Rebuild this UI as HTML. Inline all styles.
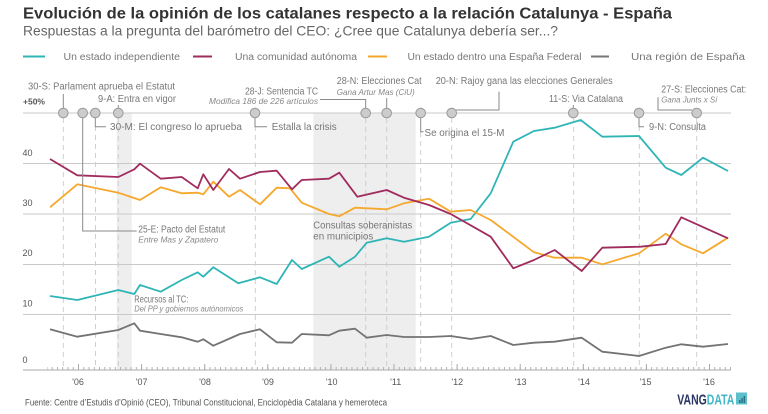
<!DOCTYPE html>
<html><head><meta charset="utf-8"><style>
html,body{margin:0;padding:0;background:#fff;}
svg{display:block;font-family:"Liberation Sans",sans-serif;}
</style></head><body>
<svg width="768" height="414" viewBox="0 0 768 414" xmlns="http://www.w3.org/2000/svg">
<defs>
<pattern id="tk" patternUnits="userSpaceOnUse" x="78" y="0" width="5.2583" height="414">
<rect x="0" y="0" width="1" height="414" fill="#b0b0b0"/>
</pattern>
</defs>
<!-- Title -->
<text x="23" y="18.5" font-size="16" font-weight="bold" fill="#333" textLength="649" lengthAdjust="spacingAndGlyphs">Evolución de la opinión de los catalanes respecto a la relación Catalunya - España</text>
<text x="23" y="35.5" font-size="14" fill="#666" textLength="535" lengthAdjust="spacingAndGlyphs">Respuestas a la pregunta del barómetro del CEO: ¿Cree que Catalunya debería ser...?</text>
<!-- Legend -->
<line x1="23" y1="56.5" x2="45" y2="56.5" stroke="#2fb5b6" stroke-width="2"/>
<text x="63.5" y="59.8" font-size="10" fill="#777" textLength="116.5" lengthAdjust="spacingAndGlyphs">Un estado independiente</text>
<line x1="193" y1="56.5" x2="212" y2="56.5" stroke="#a02c5e" stroke-width="2"/>
<text x="235" y="59.8" font-size="10" fill="#777" textLength="122" lengthAdjust="spacingAndGlyphs">Una comunidad autónoma</text>
<line x1="368" y1="56.5" x2="387" y2="56.5" stroke="#f6a82e" stroke-width="2"/>
<text x="407.5" y="59.8" font-size="10" fill="#777" textLength="174" lengthAdjust="spacingAndGlyphs">Un estado dentro una España Federal</text>
<line x1="591" y1="56.5" x2="609" y2="56.5" stroke="#777" stroke-width="2"/>
<text x="631" y="59.8" font-size="10" fill="#777" textLength="114" lengthAdjust="spacingAndGlyphs">Una región de España</text>

<!-- Shaded bands -->
<rect x="116.7" y="113" width="15" height="257" fill="#eeeeee"/>
<rect x="313.3" y="113" width="102.4" height="257" fill="#eeeeee"/>

<!-- Gridlines -->
<g stroke="#c9c9c9" stroke-width="1">
<line x1="23" y1="113" x2="731" y2="113"/>
<line x1="23" y1="163.5" x2="731" y2="163.5"/>
<line x1="23" y1="214" x2="731" y2="214"/>
<line x1="23" y1="264.5" x2="731" y2="264.5"/>
<line x1="23" y1="314.5" x2="731" y2="314.5"/>
</g>
<line x1="23" y1="370" x2="731" y2="370" stroke="#aaa" stroke-width="1"/>
<rect x="47" y="367" width="684" height="3" fill="url(#tk)"/>
<g stroke="#aaa" stroke-width="1">
<line x1="78.5" y1="364" x2="78.5" y2="370"/>
<line x1="141.6" y1="364" x2="141.6" y2="370"/>
<line x1="204.7" y1="364" x2="204.7" y2="370"/>
<line x1="267.8" y1="364" x2="267.8" y2="370"/>
<line x1="330.9" y1="364" x2="330.9" y2="370"/>
<line x1="394" y1="364" x2="394" y2="370"/>
<line x1="457.1" y1="364" x2="457.1" y2="370"/>
<line x1="520.2" y1="364" x2="520.2" y2="370"/>
<line x1="583.3" y1="364" x2="583.3" y2="370"/>
<line x1="646.4" y1="364" x2="646.4" y2="370"/>
<line x1="709.5" y1="364" x2="709.5" y2="370"/>
</g>

<!-- Dashed verticals -->
<g stroke="#cfcfcf" stroke-width="1" stroke-dasharray="5,4">
<line x1="63.3" y1="118" x2="63.3" y2="370"/>
<line x1="95.5" y1="126" x2="95.5" y2="370"/>
<line x1="118.3" y1="118" x2="118.3" y2="370"/>
<line x1="255.3" y1="126" x2="255.3" y2="370"/>
<line x1="365.7" y1="118" x2="365.7" y2="370"/>
<line x1="386.7" y1="118" x2="386.7" y2="370"/>
<line x1="420.7" y1="132" x2="420.7" y2="370"/>
<line x1="451.7" y1="118" x2="451.7" y2="370"/>
<line x1="573.7" y1="118" x2="573.7" y2="370"/>
<line x1="639.3" y1="126" x2="639.3" y2="370"/>
<line x1="696.7" y1="118" x2="696.7" y2="370"/>
</g>

<!-- Y labels -->
<g font-size="9" fill="#555">
<text x="23" y="104.5" font-weight="bold" font-size="8.5">+50%</text>
<text x="22.5" y="156">40</text>
<text x="22.5" y="206">30</text>
<text x="22.5" y="256">20</text>
<text x="22.5" y="306.5">10</text>
<text x="22.5" y="363">0</text>
</g>
<!-- X labels -->
<g font-size="9" fill="#555" text-anchor="middle">
<text x="78" y="385">'06</text>
<text x="141.7" y="385">'07</text>
<text x="205" y="385">'08</text>
<text x="268" y="385">'09</text>
<text x="331.7" y="385">'10</text>
<text x="395.7" y="385">'11</text>
<text x="457.3" y="385">'12</text>
<text x="520.7" y="385">'13</text>
<text x="584" y="385">'14</text>
<text x="645.7" y="385">'15</text>
<text x="709" y="385">'16</text>
</g>

<!-- Series -->
<g fill="none" stroke-width="1.8" stroke-linejoin="round">
<polyline stroke="#737373" points="50,329.3 77.3,336.7 118.3,330 134.3,323.3 140,330.7 160.7,334 181.7,337.3 197.7,341.7 203.3,339.3 213.3,345.7 240,334 260,329.3 276.7,342.3 292,342.7 301.7,334 329,335.3 339.3,330.7 355,328.7 366.7,337.7 386.7,335 404,337 429,337 450.7,336 470.7,339 490.7,336 513.3,345 534,342.7 554.7,341.7 581.7,337.7 602.3,351.7 639,356 665.7,347.7 681.3,344.3 703,346.7 728,344"/>
<polyline stroke="#2fb5b6" points="50,296 77.3,300 118.3,290 134.3,294 140,285 160.7,291.7 181.7,280 197.7,272.3 203.3,276.7 213.3,267.3 238.3,283.3 260,277.3 276.7,284 292,260 301.7,269 329,256.7 339.3,266.7 355,256.7 366.7,242.7 386.7,238.3 404,241.7 429,236.7 450.7,222.7 470.7,219 490.7,193.3 513.3,141.7 534,131 554.7,127.7 580.7,120 602.3,136.7 639,136 665.7,167.7 681.3,175 703,157.7 728,171"/>
<polyline stroke="#f6a82e" points="50,207.3 77.3,184.3 118.3,192.7 140,200 160.7,187.3 181.7,193.3 197.7,192.7 203.3,194.3 213.3,181.7 229,196.7 240,190 260,204.3 276.7,187.7 290,188.3 301.7,202.7 329,214 339.3,216.3 355,207.7 386.7,209.3 404,203.3 429,198.7 450.7,211.7 470.7,210 490.7,220 534,252.3 554.7,257.7 581.7,257.7 602.3,264.3 639,253.3 665.7,233.7 681.3,244.3 703,253.3 728,237.7"/>
<polyline stroke="#a02c5e" points="50,159 77.3,175.3 118.3,177 134.3,169.3 140,163.7 160.7,178.7 181.7,177 197.7,188.3 203.3,174.3 213.3,190 229,169 240,178.7 260,172 276.7,170.7 292,189.3 301.7,180 329,178.7 339.3,172.7 357.3,196.7 386.7,190 404,197.7 429,205 450.7,214 490.7,236.7 513.3,268.3 534,260 554.7,250 581.7,271 602.3,247.7 640.7,246.7 665.7,244 681.3,217.3 728,238.3"/>
</g>

<!-- Connectors -->
<g fill="none" stroke="#8a8a8a" stroke-width="1">
<polyline points="63.3,94 63.3,108"/>
<polyline points="82.7,118 82.7,231 136.7,231"/>
<polyline points="95.3,118 95.3,126.7 106,126.7"/>
<polyline points="118.3,105 118.3,108"/>
<polyline points="320,99.5 365.7,99.5 365.7,108"/>
<polyline points="255,118 255,126.7 267,126.7"/>
<polyline points="386.7,98 386.7,108"/>
<polyline points="456,110 499,110 499,91.7"/>
<polyline points="420.7,118 420.7,131.7 423.5,131.7"/>
<polyline points="573.3,105 573.3,108"/>
<polyline points="639,118 639,126.7 644,126.7"/>
<polyline points="658,97.3 658,110 692,110"/>
</g>

<!-- Markers -->
<g fill="#cccccc" stroke="#9a9a9a" stroke-width="1">
<circle cx="63.3" cy="113" r="4.8"/>
<circle cx="82.7" cy="113" r="4.8"/>
<circle cx="95.3" cy="113" r="4.8"/>
<circle cx="118.3" cy="113" r="4.8"/>
<circle cx="255" cy="113" r="4.8"/>
<circle cx="365.7" cy="113" r="4.8"/>
<circle cx="386.7" cy="113" r="4.8"/>
<circle cx="420.7" cy="113" r="4.8"/>
<circle cx="451.7" cy="113" r="4.8"/>
<circle cx="573.3" cy="113" r="4.8"/>
<circle cx="639" cy="113" r="4.8"/>
<circle cx="696.7" cy="113" r="4.8"/>
</g>

<!-- Annotations -->
<g font-size="10" fill="#777" lengthAdjust="spacingAndGlyphs">
<text x="28" y="89.5" textLength="147" lengthAdjust="spacingAndGlyphs">30-S: Parlament aprueba el Estatut</text>
<text x="98" y="102" textLength="78" lengthAdjust="spacingAndGlyphs">9-A: Entra en vigor</text>
<text x="110" y="130" textLength="132" lengthAdjust="spacingAndGlyphs">30-M: El congreso lo aprueba</text>
<text x="245" y="94.5" textLength="73" lengthAdjust="spacingAndGlyphs">28-J: Sentencia TC</text>
<text x="271.7" y="130" textLength="65" lengthAdjust="spacingAndGlyphs">Estalla la crisis</text>
<text x="336.7" y="84" textLength="85" lengthAdjust="spacingAndGlyphs">28-N: Elecciones Cat</text>
<text x="435.7" y="84" textLength="177" lengthAdjust="spacingAndGlyphs">20-N: Rajoy gana las elecciones Generales</text>
<text x="424.5" y="136" textLength="80" lengthAdjust="spacingAndGlyphs">Se origina el 15-M</text>
<text x="549" y="102" textLength="74" lengthAdjust="spacingAndGlyphs">11-S: Via Catalana</text>
<text x="649" y="130" textLength="57" lengthAdjust="spacingAndGlyphs">9-N: Consulta</text>
<text x="661.3" y="92.7" textLength="85" lengthAdjust="spacingAndGlyphs">27-S: Elecciones Cat:</text>
<text x="138.3" y="232.5" textLength="87" lengthAdjust="spacingAndGlyphs">25-E: Pacto del Estatut</text>
<text x="313.3" y="228.5" textLength="99" lengthAdjust="spacingAndGlyphs">Consultas soberanistas</text>
<text x="313.3" y="239.5" textLength="60" lengthAdjust="spacingAndGlyphs">en municipios</text>
<text x="134.3" y="302.5" textLength="54" lengthAdjust="spacingAndGlyphs">Recursos al TC:</text>
</g>
<g font-size="8.5" fill="#888" font-style="italic">
<text x="209" y="104" textLength="109" lengthAdjust="spacingAndGlyphs">Modifica 186 de 226 artículos</text>
<text x="336.7" y="95" textLength="78" lengthAdjust="spacingAndGlyphs">Gana Artur Mas (CiU)</text>
<text x="661.3" y="102.5" textLength="56" lengthAdjust="spacingAndGlyphs">Gana Junts x Sí</text>
<text x="138.3" y="242.5" textLength="80" lengthAdjust="spacingAndGlyphs">Entre Mas y Zapatero</text>
<text x="134.3" y="311.5" textLength="109" lengthAdjust="spacingAndGlyphs">Del PP y gobiernos autónomicos</text>
</g>

<!-- Footer -->
<text x="25" y="405.5" font-size="9" fill="#555" textLength="362" lengthAdjust="spacingAndGlyphs">Fuente: Centre d’Estudis d’Opinió (CEO), Tribunal Constitucional, Enciclopèdia Catalana y hemeroteca</text>
<text x="677.3" y="404.3" font-size="15" font-weight="bold" textLength="57" lengthAdjust="spacingAndGlyphs"><tspan fill="#2b3562">VANG</tspan><tspan fill="#45b6c6">DATA</tspan></text>
<rect x="736" y="392.5" width="11" height="12" fill="#5cc0cc"/>
<rect x="739" y="400" width="1.5" height="3" fill="#2f6f86"/>
<rect x="741.3" y="398" width="1.5" height="5" fill="#2f6f86"/>
<rect x="743.6" y="396" width="1.5" height="7" fill="#2f6f86"/>
</svg>
</body></html>
